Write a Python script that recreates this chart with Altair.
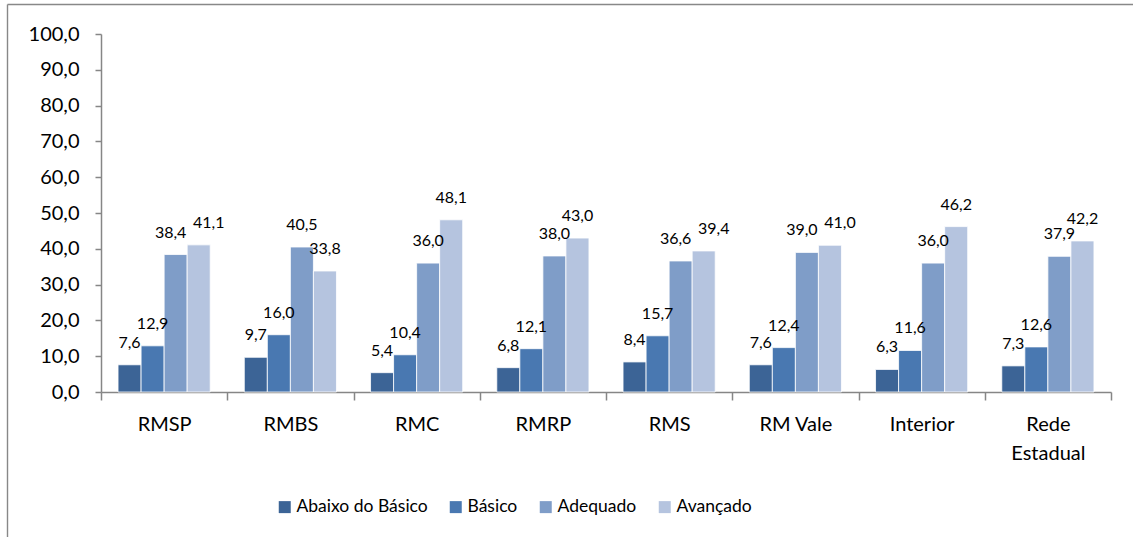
import altair as alt
import pandas as pd

# Proficiency distribution (%) by region
regions = ["RMSP", "RMBS", "RMC", "RMRP", "RMS", "RM Vale", "Interior", "Rede Estadual"]
levels = ["Abaixo do Básico", "Básico", "Adequado", "Avançado"]

abaixo = [7.6, 9.7, 5.4, 6.8, 8.4, 7.6, 6.3, 7.3]
basico = [12.9, 16.0, 10.4, 12.1, 15.7, 12.4, 11.6, 12.6]
adequado = [38.4, 40.5, 36.0, 38.0, 36.6, 39.0, 36.0, 37.9]
avancado = [41.1, 33.8, 48.1, 43.0, 39.4, 41.0, 46.2, 42.2]

colors = ["#3C6496", "#4978B1", "#7F9DC8", "#B5C4DF"]

# Where the two tallest bars of a group are close in height their labels
# would collide, so those two labels get pushed apart sideways.
close = {reg: abs(a - b) < 3.5 for reg, a, b in zip(regions, adequado, avancado)}

rows = []
for lvl, vals in zip(levels, [abaixo, basico, adequado, avancado]):
    for reg, v in zip(regions, vals):
        side = "mid"
        if close[reg] and lvl == "Adequado":
            side = "left"
        elif close[reg] and lvl == "Avançado":
            side = "right"
        rows.append({"regiao": reg, "nivel": lvl, "pct": v, "lado": side,
                     "rotulo": f"{v:.1f}".replace(".", ",")})
df = pd.DataFrame(rows)

FONT = "Lato"
AXIS_GRAY = "#868686"

x_enc = alt.X(
    "regiao:N", sort=regions,
    scale=alt.Scale(paddingInner=0, paddingOuter=0),
    axis=alt.Axis(
        title=None, labelAngle=0, tickBand="extent",
        tickSize=8, tickWidth=1.5, tickColor=AXIS_GRAY,
        domainColor=AXIS_GRAY, domainWidth=1.5,
        labelPadding=14, labelFontSize=20, labelFont=FONT, labelColor="black",
        labelLineHeight=29,
        labelExpr="datum.value == 'Rede Estadual' ? ['Rede', 'Estadual'] : datum.value",
    ),
)
xoff_enc = alt.XOffset("nivel:N", sort=levels,
                       scale=alt.Scale(paddingOuter=0.739, paddingInner=0))
y_enc = alt.Y(
    "pct:Q",
    scale=alt.Scale(domain=[0, 100], nice=False),
    axis=alt.Axis(
        title=None, grid=False, values=list(range(0, 101, 10)),
        tickSize=6, tickWidth=1.5, tickColor=AXIS_GRAY,
        domainColor=AXIS_GRAY, domainWidth=1.5,
        labelPadding=16, labelFontSize=20, labelFont=FONT, labelColor="black",
        labelExpr="replace(format(datum.value, '.1f'), '.', ',')",
    ),
)

base = alt.Chart(df)

bars = base.mark_bar(stroke="white", strokeWidth=0.8).encode(
    x=x_enc, xOffset=xoff_enc, y=y_enc,
    color=alt.Color(
        "nivel:N", sort=levels,
        scale=alt.Scale(domain=levels, range=colors),
        legend=alt.Legend(
            title=None, orient="none", legendX=175, legendY=464,
            direction="horizontal", symbolType="square", symbolSize=144,
            symbolStrokeWidth=0, labelFontSize=17.5, labelFont=FONT,
            labelColor="black", columnPadding=19, labelOffset=3,
        ),
    ),
)


def value_labels(side, dx):
    return base.transform_filter(alt.datum.lado == side).mark_text(
        dy=-22, dx=dx, baseline="middle", fontSize=16, font=FONT, color="black"
    ).encode(x=x_enc, xOffset=xoff_enc, y=y_enc, text="rotulo:N")


labels_mid = value_labels("mid", 0)
labels_left = value_labels("left", -5)
labels_right = value_labels("right", 10)

# Outer chart frame: top and left borders, kept inside the canvas
frame_df = pd.DataFrame({"k": [0]})
frame_left = alt.Chart(frame_df).mark_rule(color="#888888", strokeWidth=1.4).encode(
    x=alt.value(-93.5), y=alt.value(-29.5), y2=alt.value(503)
)
frame_top = alt.Chart(frame_df).mark_rule(color="#888888", strokeWidth=1.4).encode(
    x=alt.value(-93.5), x2=alt.value(1032), y=alt.value(-29.5)
)

chart = alt.layer(
    frame_left, frame_top, bars, labels_mid, labels_left, labels_right
).properties(
    width=1010, height=358,
    autosize=alt.AutoSizeParams(type="none"),
    padding={"left": 101, "top": 34, "right": 23, "bottom": 146},
    background="white",
).configure_view(stroke="transparent", strokeWidth=0)

chart.save("out.html", embed_options={"renderer": "svg", "actions": False})
